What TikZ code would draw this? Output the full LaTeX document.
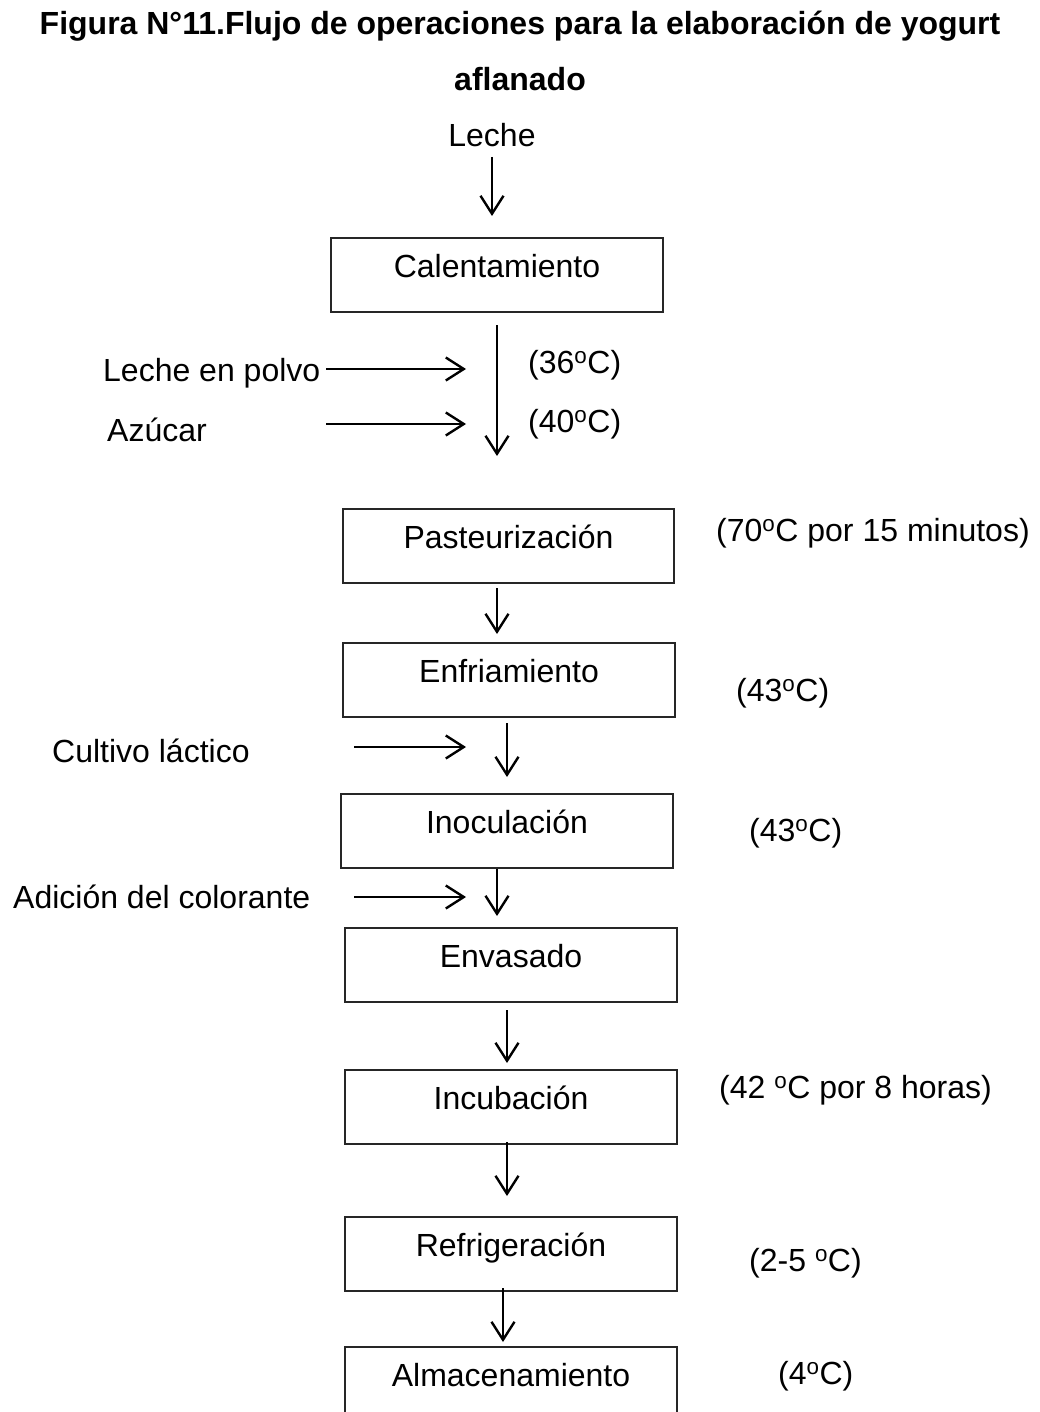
\documentclass[tikz,border=0pt]{standalone}
\usepackage{fontspec}
\setmainfont{Liberation Sans}
\usetikzlibrary{arrows.meta,calc}
\begin{document}
\begin{tikzpicture}[x=1pt,y=-1pt,
  every node/.style={font=\fontsize{32}{38}\selectfont, inner sep=0pt},
  procbox/.style={draw=black!85, line width=2pt, minimum width=332pt, text height=39.5pt, text depth=34.5pt, anchor=north west},
  arr/.style={line width=2.4pt, -{Straight Barb[length=18pt,width=23pt,line width=2.4pt]}},
  side/.style={anchor=base west}]
\useasboundingbox (0,0) rectangle (1039,1412);
\clip (0,0) rectangle (1039,1412);
% title
\node[anchor=base, font=\fontsize{32}{38}\selectfont\bfseries] (t1) at (520,35) {Figura N°11.Flujo de operaciones para la elaboración de yogurt};
\node[anchor=base, font=\fontsize{32}{38}\selectfont\bfseries] (t2) at (520,91) {aflanado};
% input
\node[anchor=base] (leche) at (492,147) {Leche};
% boxes
\node[procbox] (cal) at (330,237) {Calentamiento};
\node[procbox, minimum width=331pt] (pas) at (342,508) {Pasteurización};
\node[procbox] (enf) at (342,642) {Enfriamiento};
\node[procbox] (ino) at (340,793) {Inoculación};
\node[procbox] (env) at (344,927) {Envasado};
\node[procbox] (inc) at (344,1069) {Incubación};
\node[procbox] (ref) at (344,1216) {Refrigeración};
\node[procbox, text depth=44.5pt] (alm) at (344,1346) {Almacenamiento};
% side inputs
\node[side] (lp) at (103,381) {Leche en polvo};
\node[side] (az) at (107,441) {Azúcar};
\node[side] (cl) at (52,762) {Cultivo láctico};
\node[side] (ad) at (13,908) {Adición del colorante};
% conditions
\node[side] (c36) at (528,373) {(36\textsuperscript{o}C)};
\node[side] (c40) at (528,432) {(40\textsuperscript{o}C)};
\node[side] (c70) at (716,541) {(70\textsuperscript{o}C por 15 minutos)};
\node[side] (c43a) at (736,701) {(43\textsuperscript{o}C)};
\node[side] (c43b) at (749,841) {(43\textsuperscript{o}C)};
\node[side] (c42) at (719,1098) {(42 \textsuperscript{o}C por 8 horas)};
\node[side] (c25) at (749,1271) {(2-5 \textsuperscript{o}C)};
\node[side] (c4) at (778,1384) {(4\textsuperscript{o}C)};
% coordinates for arrows
\coordinate (a1s) at (492,157);
\coordinate (a1e) at (492,216);
\coordinate (a2s) at (497,325);
\coordinate (a2e) at (497,456);
\coordinate (h1s) at (326,369);
\coordinate (h1e) at (466,369);
\coordinate (h2s) at (326,424);
\coordinate (h2e) at (466,424);
\coordinate (a3s) at (497,588);
\coordinate (a3e) at (497,634);
\coordinate (h3s) at (354,747);
\coordinate (h3e) at (466,747);
\coordinate (a4s) at (507,723);
\coordinate (a4e) at (507,777);
\coordinate (h4s) at (354,897);
\coordinate (h4e) at (466,897);
\coordinate (a5s) at (497,869);
\coordinate (a5e) at (497,916);
\coordinate (a6s) at (507,1010);
\coordinate (a6e) at (507,1063);
\coordinate (a7s) at (507,1142);
\coordinate (a7e) at (507,1196);
\coordinate (a8s) at (503,1288);
\coordinate (a8e) at (503,1342);
% arrows
\draw[arr] (a1s) -- (a1e);
\draw[arr] (a2s) -- (a2e);
\draw[arr] (h1s) -- (h1e);
\draw[arr] (h2s) -- (h2e);
\draw[arr] (a3s) -- (a3e);
\draw[arr] (h3s) -- (h3e);
\draw[arr] (a4s) -- (a4e);
\draw[arr] (h4s) -- (h4e);
\draw[arr] (a5s) -- (a5e);
\draw[arr] (a6s) -- (a6e);
\draw[arr] (a7s) -- (a7e);
\draw[arr] (a8s) -- (a8e);
\end{tikzpicture}
\end{document}
